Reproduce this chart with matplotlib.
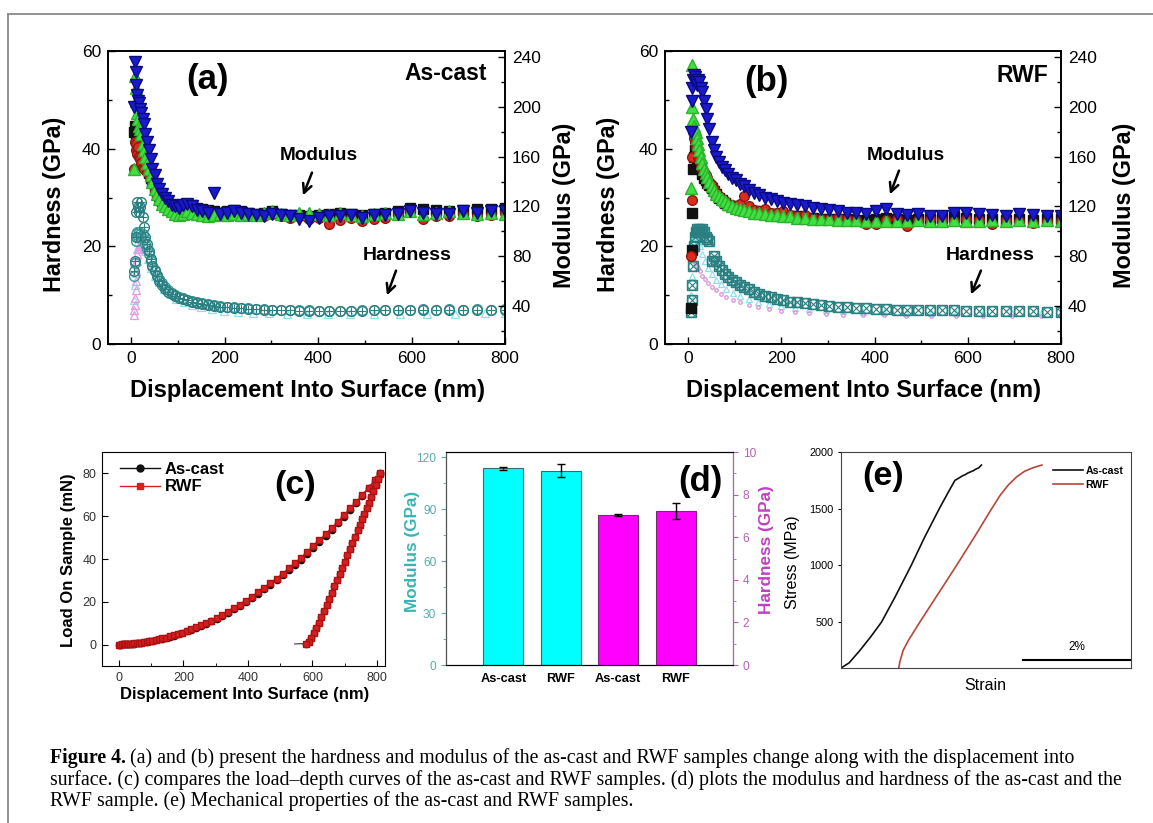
import matplotlib.pyplot as plt
from matplotlib.patches import FancyArrowPatch
from matplotlib.lines import Line2D
from matplotlib.ticker import MultipleLocator

plt.rcParams['font.family'] = ['Liberation Sans', 'DejaVu Sans']

W, H = 1153, 823

# ---- (a) / (b) nanoindentation vs depth ----
depth = [5, 7, 9, 11, 13, 15, 17, 19, 21, 24, 27, 30, 33, 37, 41, 45, 50, 55, 60, 66,
         72, 79, 86, 94, 102, 111, 120, 130, 141, 152, 164, 177, 190, 204, 219, 234, 250, 267, 284, 302,
         321, 340, 360, 381, 402, 424, 447, 470, 494, 519, 544, 570, 597, 624, 652, 681, 710, 740, 770, 800]

# modulus (GPa), as-cast, four indents
mod_a_black = [180, 185, 180, 178, 182, 175, 170, 168, 165, 160, 158, 155, 150, 147, 143, 140, 135, 131, 128, 124,
               122, 120, 119, 118, 118, 119, 120, 121, 119, 118, 117, 116, 115, 116, 117, 116, 115, 114, 115, 116,
               114, 113, 113, 112, 113, 114, 115, 114, 113, 114, 115, 116, 119, 118, 117, 116, 117, 118, 118, 119]
mod_a_red = [150, 172, 170, 165, 162, 168, 160, 158, 155, 152, 150, 155, 148, 145, 142, 138, 132, 128, 125, 123,
             121, 120, 119, 118, 118, 117, 116, 117, 116, 115, 116, 114, 115, 114, 115, 113, 112, 113, 112, 114,
             112, 111, 112, 110, 111, 106, 109, 111, 108, 110, 111, 114, 116, 110, 112, 112, 114, 112, 113, 115]
mod_a_green = [150, 225, 215, 205, 195, 190, 185, 182, 178, 170, 165, 160, 155, 150, 145, 140, 134, 130, 126, 122,
               120, 118, 116, 114, 113, 114, 116, 115, 114, 113, 112, 113, 114, 113, 114, 113, 114, 113, 115, 116,
               114, 113, 115, 115, 114, 113, 115, 113, 112, 114, 115, 114, 116, 114, 115, 116, 115, 114, 115, 114]
mod_a_blue = [200, 236, 228, 218, 210, 205, 203, 198, 195, 190, 186, 178, 172, 165, 158, 150, 145, 138, 134, 130,
              127, 124, 121, 120, 119, 121, 122, 120, 117, 116, 115, 131, 114, 115, 116, 115, 114, 113, 112, 114,
              113, 112, 110, 108, 111, 112, 112, 113, 111, 113, 113, 114, 116, 115, 114, 114, 116, 115, 116, 116]

# hardness (GPa), as-cast
hard_a1 = [15, 17, 22, 27, 29, 28, 27, 28, 29, 26, 24, 22, 20.5, 19, 17.5, 16, 15, 14, 13, 12,
           11.3, 10.7, 10.2, 9.8, 9.5, 9.2, 9.0, 8.7, 8.4, 8.2, 8.0, 7.8, 7.6, 7.5, 7.4, 7.3, 7.2, 7.1, 7.0, 7.0,
           6.9, 6.9, 6.8, 6.8, 6.8, 6.7, 6.8, 6.8, 6.8, 6.9, 6.9, 6.9, 7.0, 7.0, 7.0, 7.0, 7.0, 7.0, 7.0, 7.0]
hard_a2 = [14, 16.5, 21, 22.5, 23, 22, 23, 22.5, 22, 22.5, 21.5, 20.5, 19.5, 18.5, 17, 16, 15.2, 14.2, 13.3, 12.4,
           11.6, 11.0, 10.4, 10.0, 9.7, 9.4, 9.1, 8.8, 8.5, 8.3, 8.1, 7.9, 7.7, 7.6, 7.5, 7.4, 7.3, 7.2, 7.1, 7.0,
           7.0, 6.9, 6.9, 6.9, 6.8, 6.8, 6.8, 6.8, 6.9, 6.9, 6.9, 7.0, 7.0, 7.1, 7.0, 7.1, 7.0, 7.1, 7.0, 7.1]

sparse_depth = [5, 7, 9, 11, 13, 15, 18, 21, 25, 30, 36, 43, 51, 60, 70, 82, 96, 112, 130, 150,
                173, 199, 228, 260, 295, 333, 375, 420, 468, 520, 575, 633, 694, 758, 800]
hard_a_cyan = [9, 12, 14.5, 17, 19.5, 21, 22, 21.5, 20.5, 19, 17.5, 15.5, 14, 12.6, 11.3, 10.2, 9.3, 8.6, 8.0, 7.5,
               7.1, 6.8, 6.6, 6.4, 6.3, 6.2, 6.2, 6.1, 6.1, 6.1, 6.2, 6.2, 6.2, 6.3, 6.3]
pink_a_depth = [5, 6, 7, 8, 9, 10, 11, 12, 13, 15, 17, 19, 21, 24]
hard_a_pink = [6, 7, 8, 9.5, 11, 13, 15, 17, 18.5, 19.5, 20, 20.5, 20, 19.5]

# modulus (GPa), RWF
mod_b_black = [38, 85, 115, 150, 160, 165, 162, 158, 155, 152, 150, 146, 143, 141, 139, 137, 135, 132, 130, 127,
               125, 123, 121, 120, 119, 118, 118, 117, 116, 116, 115, 114, 114, 113, 112, 112, 111, 111, 110, 110,
               110, 110, 109, 109, 110, 111, 110, 109, 110, 110, 111, 112, 111, 110, 110, 109, 110, 109, 110, 110]
mod_b_red = [80, 125, 160, 180, 175, 172, 168, 165, 160, 157, 152, 150, 148, 145, 143, 140, 137, 134, 131, 128,
             126, 124, 122, 121, 120, 122, 128, 120, 117, 116, 118, 115, 115, 116, 113, 112, 113, 111, 110, 110,
             111, 110, 109, 106, 106, 109, 110, 104, 109, 110, 109, 108, 110, 109, 106, 109, 108, 107, 108, 108]
mod_b_green = [135, 234, 200, 190, 185, 182, 180, 175, 170, 165, 160, 155, 150, 147, 144, 140, 136, 133, 130, 128,
               126, 124, 122, 120, 119, 118, 117, 116, 115, 115, 114, 113, 113, 112, 112, 111, 111, 110, 110, 110,
               109, 109, 109, 108, 108, 108, 108, 108, 109, 108, 108, 109, 108, 108, 109, 108, 109, 108, 109, 108]
mod_b_blue = [180, 205, 215, 222, 226, 224, 220, 218, 222, 220, 215, 212, 205, 198, 190, 182, 172, 165, 160, 156,
              152, 149, 146, 143, 141, 138, 136, 133, 131, 129, 127, 126, 124, 123, 122, 121, 120, 119, 118, 117,
              116, 115, 115, 114, 116, 118, 114, 113, 114, 112, 112, 115, 115, 114, 113, 112, 114, 113, 112, 112]

# hardness (GPa), RWF
hard_b1 = [6.5, 9, 12, 16, 20, 22, 23, 23.5, 23, 23.5, 23, 23.5, 23, 22, 21.5, 21, 17, 18, 17, 16,
           15.2, 14.4, 13.7, 13.1, 12.6, 12.1, 11.6, 11.2, 10.7, 10.3, 9.9, 9.6, 9.3, 9.0, 8.7, 8.5, 8.3, 8.1, 7.9, 7.8,
           7.6, 7.5, 7.4, 7.3, 7.2, 7.1, 7.0, 7.0, 6.9, 6.9, 6.9, 6.9, 6.8, 6.8, 6.8, 6.8, 6.7, 6.7, 6.6, 6.6]
hard_b_pink = [17, 18, 18, 17.5, 17, 16.5, 16, 15.5, 15, 14, 13.3, 12.5, 11.7, 11, 10.3, 9.6, 9.0, 8.5, 8.0, 7.5,
               7.1, 6.8, 6.5, 6.3, 6.1, 6.0, 5.9, 5.9, 5.8, 5.8, 5.8, 5.8, 5.8, 5.8, 5.8]
hard_b_cyan = [10, 14, 18, 21, 22, 22.5, 22, 21, 20, 18.5, 17, 15.5, 14.3, 13.2, 12.2, 11.3, 10.5, 9.8, 9.2, 8.6,
               8.1, 7.7, 7.4, 7.1, 6.9, 6.7, 6.6, 6.5, 6.4, 6.4, 6.3, 6.3, 6.3, 6.3, 6.3]

# ---- (c) load-depth ----
load_h = [0, 5, 10, 15, 20, 25, 30, 36, 42, 48, 55, 62, 70, 78, 86, 95, 104, 114, 124, 135,
          146, 158, 170, 183, 196, 210, 224, 239, 254, 270, 286, 303, 320, 338, 356, 375, 394, 413, 432, 451,
          470, 489, 508, 527, 546, 565, 584, 603, 622, 641, 660, 679, 698, 717, 736, 755, 774, 793, 810]
load_ascast = [0, 0.03, 0.06, 0.10, 0.15, 0.20, 0.25, 0.33, 0.41, 0.51, 0.62, 0.75, 0.92, 1.09, 1.29, 1.52, 1.77, 2.07, 2.40, 2.78,
               3.19, 3.68, 4.19, 4.79, 5.42, 6.15, 6.92, 7.80, 8.73, 9.78, 10.89, 12.13, 13.44, 14.90, 16.43, 18.13, 19.92, 21.78, 23.73, 25.77,
               27.89, 30.09, 32.37, 34.74, 37.19, 39.73, 42.35, 45.05, 47.83, 50.70, 53.66, 56.69, 59.81, 63.01, 66.30, 69.67, 73.12, 76.66, 79.9]
load_rwf = [0, 0.03, 0.06, 0.10, 0.15, 0.21, 0.26, 0.34, 0.43, 0.53, 0.65, 0.78, 0.95, 1.13, 1.34, 1.58, 1.84, 2.15, 2.49, 2.88,
            3.31, 3.81, 4.34, 4.96, 5.61, 6.36, 7.16, 8.07, 9.03, 10.11, 11.25, 12.53, 13.88, 15.38, 16.96, 18.70, 20.53, 22.43, 24.42, 26.49,
            28.65, 30.88, 33.19, 35.58, 38.05, 40.60, 43.23, 45.93, 48.70, 51.55, 54.47, 57.45, 60.50, 63.62, 66.81, 70.06, 73.37, 76.74, 79.9]
unload_h = [810, 803, 796, 789, 782, 775, 768, 761, 754, 747, 740, 732, 724, 716, 708, 700, 692, 684, 676, 668,
            660, 652, 644, 636, 628, 620, 612, 604, 596, 588, 580]
unload_p = [80, 77.2, 74.5, 71.8, 69.1, 66.4, 63.8, 61.2, 58.6, 56.0, 53.4, 50.4, 47.5, 44.6, 41.7, 38.8, 35.9, 33.0, 30.1, 27.2,
            24.3, 21.4, 18.6, 15.8, 13.0, 10.3, 7.7, 5.2, 3.0, 1.3, 0.5]
tail_h = [580, 545]
tail_p = [0.5, 0.3]

# ---- (d) averages ----
bar_labels = ['As-cast', 'RWF', 'As-cast', 'RWF']
modulus_avg = [113.5, 112.2]
modulus_err = [0.8, 3.8]
hardness_avg = [7.03, 7.23]
hardness_err = [0.05, 0.36]

# ---- (e) tensile curves ----
strain_ascast = [0, 0.15, 0.35, 0.55, 0.75, 1.0, 1.3, 1.55, 1.82, 1.98, 2.11, 2.2, 2.25, 2.3, 2.35, 2.4, 2.45, 2.5, 2.55, 2.6]
stress_ascast = [95, 140, 250, 370, 500, 720, 1000, 1250, 1500, 1640, 1750, 1775, 1790, 1800, 1815, 1825, 1835, 1850, 1860, 1885]
strain_rwf = [1.07, 1.09, 1.15, 1.25, 1.46, 1.8, 2.14, 2.47, 2.79, 2.95, 3.1, 3.25, 3.4, 3.55, 3.65, 3.72]
stress_rwf = [95, 150, 250, 340, 500, 750, 1000, 1250, 1500, 1620, 1710, 1780, 1830, 1860, 1875, 1885]
scale_bar = [3.37, 5.37]
scale_bar_stress = 165

fig = plt.figure(figsize=(W / 100, H / 100), dpi=100)


def box(l, t, r, b):
    return [l / W, 1 - b / H, (r - l) / W, (b - t) / H]


def ftext(x, y, s, **kw):
    return fig.text(x / W, 1 - y / H, s, **kw)


def arrow(x1, y1, x2, y2):
    fig.add_artist(FancyArrowPatch((x1 / W, 1 - y1 / H), (x2 / W, 1 - y2 / H),
                                   transform=fig.transFigure, arrowstyle='->',
                                   mutation_scale=16, lw=1.8, color='k'))


# frame
fig.add_artist(Line2D([8 / W, 1], [1 - 14 / H, 1 - 14 / H], transform=fig.transFigure, color='#8a8a8a', lw=1.3))
fig.add_artist(Line2D([8 / W, 8 / W], [0, 1 - 14 / H], transform=fig.transFigure, color='#8a8a8a', lw=1.3))


def nano_axes(rect, mods, hard_main, hard_marker, extras):
    ax = fig.add_axes(rect)
    ax2 = ax.twinx()
    ax.set_xlim(-50, 800)
    ax.set_ylim(0, 60)
    ax2.set_ylim(9.3, 245)
    ax.xaxis.set_major_locator(MultipleLocator(200))
    ax.xaxis.set_minor_locator(MultipleLocator(100))
    ax.yaxis.set_major_locator(MultipleLocator(20))
    ax.yaxis.set_minor_locator(MultipleLocator(10))
    ax2.yaxis.set_major_locator(MultipleLocator(40))
    ax2.yaxis.set_minor_locator(MultipleLocator(20))
    for a in (ax, ax2):
        a.tick_params(which='both', direction='in', labelsize=12.5, width=1, pad=5)
        a.tick_params(which='major', length=5)
        a.tick_params(which='minor', length=3)
        for s in a.spines.values():
            s.set_linewidth(1.2)
    # hardness
    for xs, ys, mk, col, ms in extras:
        ax.plot(xs, ys, mk, ls='none', mfc='none', mec=col, ms=ms, mew=0.9)
    ax.plot(depth, hard_main[1], 'o', ls='none', mfc='none', mec='#3a9a9a', ms=7, mew=1)
    ax.plot(depth, hard_main[0], hard_marker, ls='none', mfc='none', mec='#2c7f80', ms=7, mew=1)
    ax.plot(depth, hard_main[0], '+' if hard_marker == 'o' else 'x', ls='none', mec='#2c7f80', ms=6, mew=0.8)
    # modulus
    black, red, green, blue = mods
    ax2.plot(depth, black, 's', ls='none', color='#111111', ms=6.5)
    ax2.plot(depth, red, 'o', ls='none', mfc='#dd2a1e', mec='#8a1a10', ms=7)
    ax2.plot(depth, green, '^', ls='none', mfc='#3fe03f', mec='#2fb02f', ms=8)
    ax2.plot(depth, blue, 'v', ls='none', mfc='#1a1acc', mec='#0a0a80', ms=8)
    return ax


nano_axes(box(108, 51, 505, 344),
          (mod_a_black, mod_a_red, mod_a_green, mod_a_blue),
          (hard_a1, hard_a2), 'o',
          [(sparse_depth, hard_a_cyan, '^', '#8fe0ee', 6),
           (pink_a_depth, hard_a_pink, '^', '#e49ae4', 6)])
nano_axes(box(665, 51, 1061, 344),
          (mod_b_black, mod_b_red, mod_b_green, mod_b_blue),
          (hard_b1, hard_b1), 's',
          [(sparse_depth, hard_b_cyan, '^', '#8fe0ee', 5),
           (sparse_depth, hard_b_pink, '.', '#d890d8', 5)])

bold = dict(fontweight='bold')
for dx in (0, 557):
    ftext(55 + dx - (4 if dx else 0), 204, 'Hardness (GPa)', rotation=90, ha='center', va='center', fontsize=16.8, **bold)
    ftext(565 + dx + (3 if dx else 0), 205, 'Modulus (GPa)', rotation=90, ha='center', va='center', fontsize=16.8, **bold)
    ftext(307 + dx, 390, 'Displacement Into Surface (nm)', ha='center', va='center', fontsize=17, **bold)
ftext(208, 80, '(a)', ha='center', va='center', fontsize=25, **bold)
ftext(766, 82, '(b)', ha='center', va='center', fontsize=25, **bold)
ftext(487, 73, 'As-cast', ha='right', va='center', fontsize=16.5, **bold)
ftext(1048, 76, 'RWF', ha='right', va='center', fontsize=16.5, **bold)
ftext(319, 155, 'Modulus', ha='center', va='center', fontsize=13.7, **bold)
ftext(407, 256, 'Hardness', ha='center', va='center', fontsize=14, **bold)
ftext(906, 156, 'Modulus', ha='center', va='center', fontsize=13.7, **bold)
ftext(990, 255, 'Hardness', ha='center', va='center', fontsize=14, **bold)
arrow(313, 170, 302, 198)
arrow(397, 268, 386, 298)
arrow(900, 168, 889, 197)
arrow(982, 268, 970, 297)

# ---- (c) ----
axc = fig.add_axes(box(102, 452, 385, 666))
axc.plot(load_h, load_ascast, '-o', color='#111111', ms=4.5, lw=1)
axc.plot(unload_h, unload_p, '-o', color='#111111', ms=4.5, lw=1)
axc.plot(tail_h, tail_p, '-', color='#333333', lw=0.8)
axc.plot(load_h, load_rwf, '-s', color='#d42020', mec='#b01010', ms=4.5, lw=1)
axc.plot(unload_h, unload_p, '-s', color='#d42020', mec='#b01010', ms=4.5, lw=1)
axc.set_xlim(-52, 825)
axc.set_ylim(-10, 90)
axc.xaxis.set_major_locator(MultipleLocator(200))
axc.xaxis.set_minor_locator(MultipleLocator(100))
axc.yaxis.set_major_locator(MultipleLocator(20))
axc.tick_params(which='both', direction='in', labelsize=9, labelcolor='#333333', pad=4)
axc.tick_params(which='major', length=4)
axc.tick_params(which='minor', length=2.5)
h1 = Line2D([], [], color='#111111', marker='o', ms=5, lw=1)
h2 = Line2D([], [], color='#d42020', marker='s', ms=5, lw=1)
axc.legend([h1, h2], ['As-cast', 'RWF'], loc='upper left', bbox_to_anchor=(0.04, 0.985), frameon=False,
           prop=dict(weight='bold', size=12), handlelength=2.4, labelspacing=0.15, handletextpad=0.3, borderaxespad=0)
ftext(68, 560, 'Load On Sample (mN)', rotation=90, ha='center', va='center', fontsize=12, **bold)
ftext(245, 695, 'Displacement Into Surface (nm)', ha='center', va='center', fontsize=12, **bold)
ftext(295, 486, '(c)', ha='center', va='center', fontsize=24.5, **bold)

# ---- (d) ----
teal_lab = '#3bb3b3'
mag_lab = '#c040c0'
axd = fig.add_axes(box(446, 452, 733, 665))
axd2 = axd.twinx()
xpos = [1, 2, 3, 4]
axd.bar(xpos[:2], modulus_avg, yerr=modulus_err, width=0.7, color='#00ffff', edgecolor='#2e6e6e', lw=0.8,
        capsize=3, error_kw=dict(elinewidth=1, capthick=1))
axd2.bar(xpos[2:], hardness_avg, yerr=hardness_err, width=0.7, color='#ff00ff', edgecolor='#6e2e6e', lw=0.8,
         capsize=3, error_kw=dict(elinewidth=1, capthick=1))
axd.set_xlim(0, 5)
axd.set_ylim(0, 123)
axd2.set_ylim(0, 10)
axd.set_xticks(xpos)
axd.set_xticklabels(bar_labels, fontsize=9.2, fontweight='bold')
axd.tick_params(axis='x', length=0, pad=6)
axd.yaxis.set_major_locator(MultipleLocator(30))
axd.yaxis.set_minor_locator(MultipleLocator(15))
axd.tick_params(axis='y', which='both', labelsize=8.6, labelcolor='#5aabab', color='#5aabab')
axd.tick_params(axis='y', which='minor', length=2)
axd2.yaxis.set_major_locator(MultipleLocator(2))
axd2.yaxis.set_minor_locator(MultipleLocator(1))
axd2.tick_params(axis='y', which='both', labelsize=8.6, labelcolor='#b560b5', color='#b560b5')
axd2.tick_params(axis='y', which='minor', length=2)
axd2.spines['right'].set_color('#b560b5')
axd2.spines['left'].set_color('#555555')
ftext(413, 551, 'Modulus (GPa)', rotation=90, ha='center', va='center', fontsize=12.3, color=teal_lab, **bold)
ftext(767, 550, 'Hardness (GPa)', rotation=90, ha='center', va='center', fontsize=12.3, color=mag_lab, **bold)
ftext(700, 481, '(d)', ha='center', va='center', fontsize=25, **bold)

# ---- (e) ----
axe = fig.add_axes(box(841, 452, 1131, 668))
axe.plot(strain_ascast, stress_ascast, color='#111111', lw=1.2, label='As-cast')
axe.plot(strain_rwf, stress_rwf, color='#b5473a', lw=1.2, label='RWF')
axe.plot(scale_bar, [scale_bar_stress, scale_bar_stress], color='k', lw=1.5)
axe.text(sum(scale_bar) / 2, 280, '2%', ha='center', va='center', fontsize=8.5)
axe.set_xlim(0, 5.37)
axe.set_ylim(95, 2000)
axe.set_xticks([])
axe.yaxis.set_major_locator(MultipleLocator(500))
axe.tick_params(axis='y', labelsize=7.8, length=2.5, pad=3)
for s in axe.spines.values():
    s.set_color('#444444')
axe.legend(loc='upper right', bbox_to_anchor=(1.0, 0.97), frameon=False, prop=dict(weight='bold', size=7.6),
           handlelength=2.8, labelspacing=0.35, handletextpad=0.3, borderaxespad=0.3)
ftext(793, 562, 'Stress (MPa)', rotation=90, ha='center', va='center', fontsize=11.5)
ftext(985, 685, 'Strain', ha='center', va='center', fontsize=11.5)
ftext(883, 476, '(e)', ha='center', va='center', fontsize=24.5, **bold)

# ---- caption ----
cap = dict(fontfamily=['Liberation Serif', 'DejaVu Serif'], fontsize=14.3, va='center', ha='left')
lines = ['(a) and (b) present the hardness and modulus of the as-cast and RWF samples change along with the displacement into',
         'surface. (c) compares the load\u2013depth curves of the as-cast and RWF samples. (d) plots the modulus and hardness of the as-cast and the',
         'RWF sample. (e) Mechanical properties of the as-cast and RWF samples.']
t0 = ftext(50, 758, 'Figure 4.', fontweight='bold', **cap)
fig.canvas.draw()
bb = t0.get_window_extent(fig.canvas.get_renderer())
ftext(bb.x1 + 4, 758, lines[0], **cap)
ftext(50, 780, lines[1], **cap)
ftext(50, 801, lines[2], **cap)

fig.savefig('out.png', dpi=100)
